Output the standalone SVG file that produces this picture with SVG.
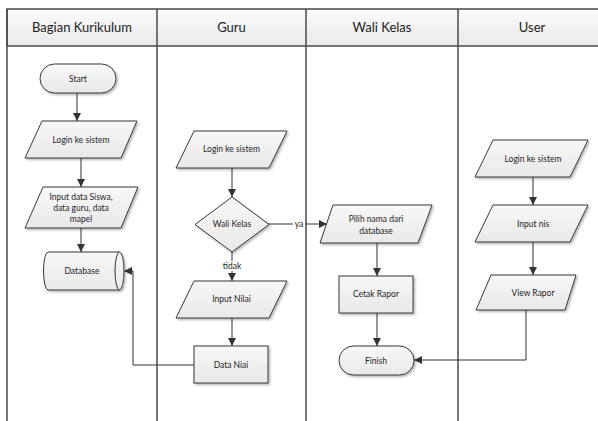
<svg xmlns="http://www.w3.org/2000/svg" width="598" height="421" viewBox="0 0 598 421">
<defs>
<linearGradient id="hdr" x1="0" y1="0" x2="0" y2="1"><stop offset="0" stop-color="#fbfbfb"/><stop offset="1" stop-color="#e9e9e9"/></linearGradient>
<linearGradient id="nf" x1="0" y1="0" x2="0" y2="1"><stop offset="0" stop-color="#f8f8f8"/><stop offset="1" stop-color="#e8e8e8"/></linearGradient>
<filter id="sh" x="-10%" y="-10%" width="130%" height="140%"><feDropShadow dx="1.5" dy="1.5" stdDeviation="0.8" flood-color="#000" flood-opacity="0.3"/></filter>
<marker id="ah" viewBox="0 0 8 8" refX="8" refY="4" markerWidth="8" markerHeight="8" markerUnits="userSpaceOnUse" orient="auto"><path d="M0,0 L8,4 L0,8 Z" fill="#333"/></marker>
<style>
.lane{fill:none;stroke:#4a4a4a;stroke-width:1.5}
.hd{fill:url(#hdr);stroke:#4a4a4a;stroke-width:1.5}
.ht{font-family:Lato,"Liberation Sans",sans-serif;font-size:13px;fill:#222;text-anchor:middle}
.n{fill:url(#nf);stroke:#3a3a3a;stroke-width:1;filter:url(#sh)}
.t{font-family:Lato,"Liberation Sans",sans-serif;font-size:8.5px;fill:#1e1e1e;text-anchor:middle}
.c{fill:none;stroke:#333;stroke-width:1;marker-end:url(#ah)}
.cl{fill:none;stroke:#333;stroke-width:1}
.lb{font-family:Lato,"Liberation Sans",sans-serif;font-size:8.5px;fill:#1e1e1e;text-anchor:middle}
</style>
</defs>
<rect width="598" height="421" fill="#fff"/>
<g id="lanes">
<rect class="hd" x="7" y="9" width="600" height="37"/>
<line class="lane" x1="7" y1="9" x2="7" y2="421"/>
<line class="lane" x1="157" y1="9" x2="157" y2="421"/>
<line class="lane" x1="306" y1="9" x2="306" y2="421"/>
<line class="lane" x1="458" y1="9" x2="458" y2="421"/>
<text class="ht" x="82" y="32">Bagian Kurikulum</text>
<text class="ht" x="231.5" y="32">Guru</text>
<text class="ht" x="382" y="32">Wali Kelas</text>
<text class="ht" x="532" y="32">User</text>
</g>
<g id="connectors">
<path class="c" d="M77,93 V121"/>
<path class="c" d="M81,158 V187"/>
<path class="c" d="M81,228 V252"/>
<path class="c" d="M232,168 V197"/>
<path class="c" d="M268,224 H327"/>
<path class="c" d="M232,252 V281"/>
<path class="c" d="M232,318 V346"/>
<path class="c" d="M194,365 H133 V271 H124"/>
<path class="c" d="M377,243 V276"/>
<path class="c" d="M377,313 V346"/>
<path class="c" d="M533,177 V205"/>
<path class="c" d="M533,242 V275"/>
<path class="c" d="M526,310 V360 H414"/>
<rect x="293" y="219" width="12" height="10" fill="#fff"/>
<text class="lb" x="299" y="227">ya</text>
<rect x="222" y="261" width="20" height="10" fill="#fff"/>
<text class="lb" x="232" y="269">tidak</text>
</g>
<g id="start">
<rect class="n" x="40" y="64" width="76" height="29" rx="14.5"/>
<text class="t" x="78" y="82">Start</text>
</g>
<g id="login1">
<path class="n" d="M42,121 H137 L121,158 H25 Z"/>
<text class="t" x="81" y="143">Login ke sistem</text>
</g>
<g id="input-data">
<path class="n" d="M43,187 H138 L121,228 H25 Z"/>
<text class="t" x="81" y="200">Input data Siswa,</text>
<text class="t" x="81" y="211">data guru, data</text>
<text class="t" x="81" y="222">mapel</text>
</g>
<g id="database">
<path class="n" d="M48,252 H119.5 A4.5,19 0 0 1 119.5,290 H48 A4.5,19 0 0 1 48,252 Z"/>
<path class="cl" d="M119.5,252 A4.5,19 0 0 0 119.5,290"/>
<text class="t" x="82" y="274">Database</text>
</g>
<g id="login2">
<path class="n" d="M194,131 H287 L269,168 H176 Z"/>
<text class="t" x="231.5" y="152">Login ke sistem</text>
</g>
<g id="wali-kelas">
<path class="n" d="M232,197 L269,224.5 L232,252 L195,224.5 Z"/>
<text class="t" x="232" y="227">Wali Kelas</text>
</g>
<g id="input-nilai">
<path class="n" d="M194,281 H287 L269,318 H176 Z"/>
<text class="t" x="231.5" y="302">Input Nilai</text>
</g>
<g id="data-niai">
<rect class="n" x="194" y="346" width="74" height="37"/>
<text class="t" x="231" y="368">Data Niai</text>
</g>
<g id="pilih">
<path class="n" d="M333,205 H432 L418,243 H320 Z"/>
<text class="t" x="376" y="222">Pilih nama dari</text>
<text class="t" x="376" y="234">database</text>
</g>
<g id="cetak">
<rect class="n" x="339" y="276" width="74" height="37"/>
<text class="t" x="376" y="297">Cetak Rapor</text>
</g>
<g id="finish">
<rect class="n" x="339" y="346" width="75" height="29" rx="14.5"/>
<text class="t" x="376" y="364">Finish</text>
</g>
<g id="login3">
<path class="n" d="M493,140 H588 L570,177 H475 Z"/>
<text class="t" x="533" y="162">Login ke sistem</text>
</g>
<g id="input-nis">
<path class="n" d="M493,205 H588 L570,242 H475 Z"/>
<text class="t" x="533" y="227">Input nis</text>
</g>
<g id="view-rapor">
<path class="n" d="M491,275 H576 L565,310 H476 Z"/>
<text class="t" x="533" y="296">View Rapor</text>
</g>
</svg>
